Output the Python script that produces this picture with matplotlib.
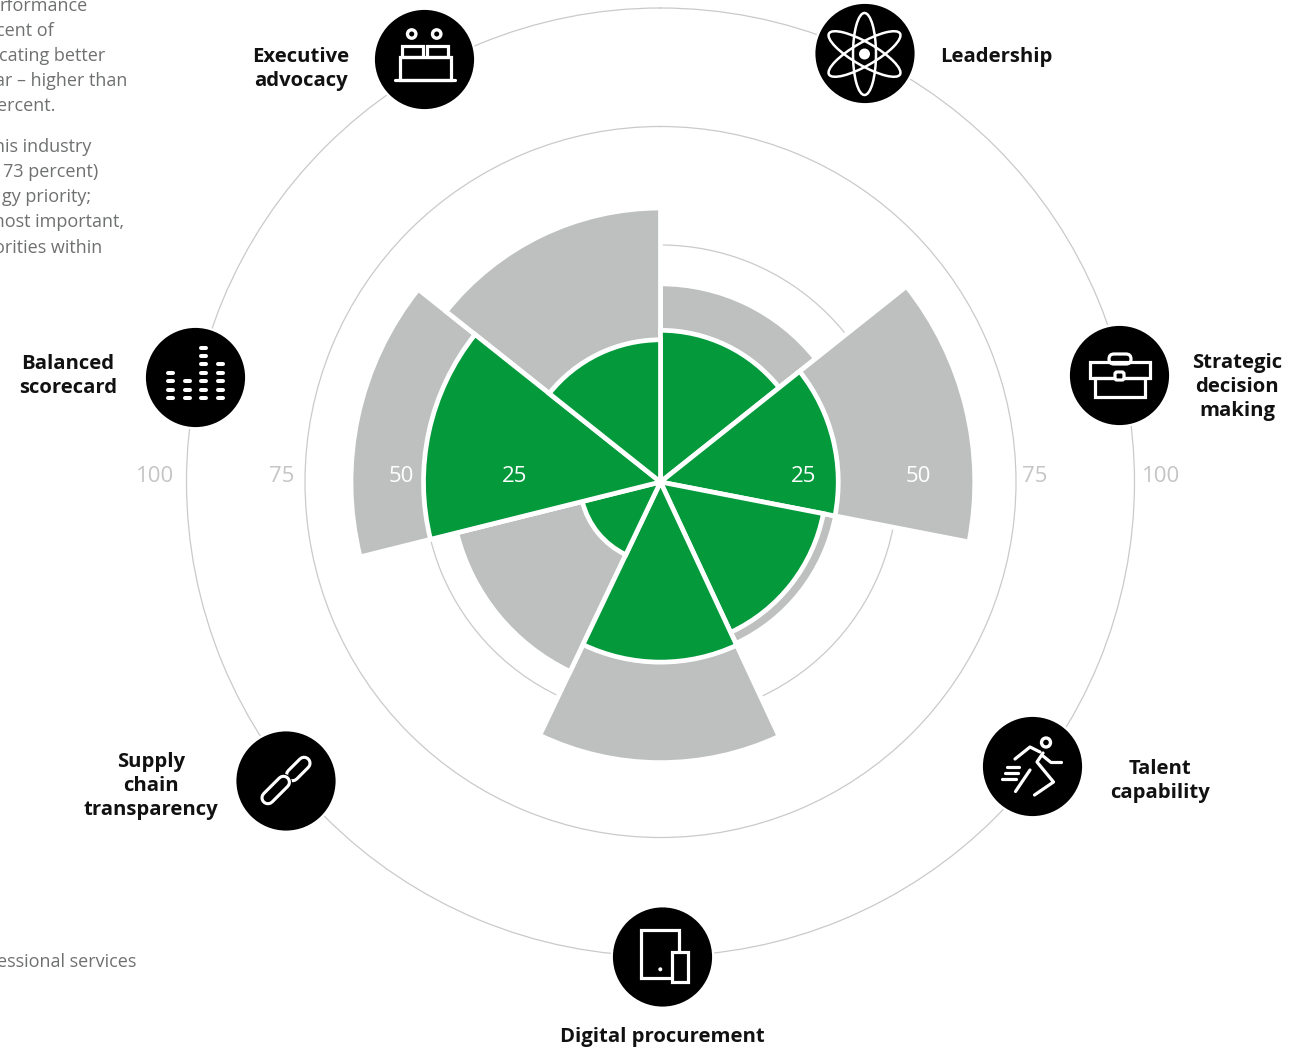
import numpy as np
import matplotlib
matplotlib.use('Agg')
import matplotlib.pyplot as plt
from matplotlib.patches import Circle, Rectangle, FancyBboxPatch, Ellipse

categories = ['Leadership', 'Strategic decision making', 'Talent capability', 'Digital procurement',
              'Supply chain transparency', 'Balanced scorecard', 'Executive advocacy']
gray_values = [41.8, 66.3, 37.6, 59.2, 44.3, 65.3, 57.8]
green_values = [32.0, 37.5, 35.0, 38.0, 17.0, 50.0, 30.0]
sector_edges_deg = [0, 51.5, 101.0, 155, 205.5, 256.0, 308.5, 360]
ring_values = [50, 75, 100]

W, H = 1289, 1049
CX, CY = 660.5, 482
PX_PER_UNIT = 4.74
RMAX = 140

GRAY = '#bec0bf'
GREEN = '#049a3c'
RING = '#c9cac9'
plt.rcParams['font.family'] = ['Open Sans', 'DejaVu Sans']

fig = plt.figure(figsize=(W / 100, H / 100), dpi=100)
fig.patch.set_facecolor('white')

# polar part, sized so 100 on the r axis comes out at 474 px
r_px = RMAX * PX_PER_UNIT
ax = fig.add_axes([(CX - r_px) / W, (H - CY - r_px) / H, 2 * r_px / W, 2 * r_px / H], projection='polar')
ax.set_theta_zero_location('N')
ax.set_theta_direction(-1)
ax.set_rlim(0, RMAX)
ax.set_rgrids(ring_values, labels=[])
ax.set_thetagrids([], labels=[])
ax.grid(True, axis='y', color=RING, lw=0.9)
ax.set_axisbelow(True)
ax.spines['polar'].set_visible(False)
ax.patch.set_alpha(0)

edges = np.radians(sector_edges_deg)
theta = (edges[:-1] + edges[1:]) / 2
widths = np.diff(edges)
ax.bar(theta, gray_values, width=widths, color=GRAY, edgecolor='white', lw=3.4, zorder=2)
ax.bar(theta, green_values, width=widths, color=GREEN, edgecolor='white', lw=3.4, zorder=3)

# overlay in pixel coordinates for labels and icons
ov = fig.add_axes([0, 0, 1, 1])
ov.set_xlim(0, W)
ov.set_ylim(H, 0)
ov.axis('off')
ov.patch.set_alpha(0)

tick_labels = [('100', 155, '#c4c5c4'), ('75', 282, '#c4c5c4'), ('50', 401, 'white'), ('25', 515, 'white'),
               ('25', 804, 'white'), ('50', 918, 'white'), ('75', 1035, '#c4c5c4'), ('100', 1161, '#c4c5c4')]
for s, x, c in tick_labels:
    ov.text(x, 476, s, color=c, fontsize=16, ha='center', va='center', zorder=5)

labels = [('Executive\nadvocacy', 301, 69), ('Leadership', 996, 57), ('Balanced\nscorecard', 68, 376),
          ('Strategic\ndecision\nmaking', 1237, 387), ('Talent\ncapability', 1160, 781),
          ('Digital procurement', 662, 1037), ('Supply\nchain\ntransparency', 151, 786)]
for s, x, y in labels:
    ov.text(x, y, s, fontsize=14.6, fontweight='bold', color='#111111', ha='center', va='center', linespacing=1.26)

body_text = [('rformance', 88, 6), ('cent of', 54, 31), ('cating better', 105, 56),
             ('ar – higher than', 127, 81), ('ercent.', 56, 106), ('his industry', 91, 147),
             ('73 percent)', 98, 172), ('gy priority;', 91, 197), ('most important,', 124, 222),
             ('orities within', 102, 248), ('essional services', 136, 962)]
for s, x, y in body_text:
    ov.text(x, y, s, fontsize=13, color='#6f7070', ha='right', va='center')


def line(xs, ys, lw=2.3, color='white', z=7):
    ov.plot(xs, ys, color=color, lw=lw, solid_capstyle='round', solid_joinstyle='round', zorder=z)


def box(x0, y0, x1, y1, lw=2.3, fc='none', z=7):
    ov.add_patch(Rectangle((x0, y0), x1 - x0, y1 - y0, fc=fc, ec='white', lw=lw, zorder=z))


centers = [(865, 53.5), (1119.5, 375.5), (1032.5, 766.5), (662.5, 957), (286, 781), (195.5, 377.5), (424.5, 59.5)]
for cx, cy in centers:
    ov.add_patch(Circle((cx, cy), 50.7, fc='black', ec='white', lw=1.6, zorder=6))

# atom
for ang in [0, 60, 120]:
    ov.add_patch(Ellipse((864.5, 54), 23, 82, angle=ang, fc='none', ec='white', lw=1.8, zorder=7))
ov.add_patch(Circle((864.5, 54), 5.5, fc='white', ec='none', zorder=7))

# briefcase
box(1089.5, 362, 1150, 378)
box(1094.5, 378, 1145, 397)
ov.add_patch(FancyBboxPatch((1109, 354), 22, 10, boxstyle='round,pad=0,rounding_size=5', fc='none', ec='white', lw=2.3, zorder=7))
ov.add_patch(FancyBboxPatch((1115, 372), 9, 8, boxstyle='round,pad=0,rounding_size=2', fc='black', ec='white', lw=2.3, zorder=8))

# runner
ov.add_patch(Circle((1046, 742.5), 4.5, fc='none', ec='white', lw=2.4, zorder=7))
line([1015, 1030, 1040], [759, 747, 752])
line([1043, 1037, 1053.5, 1034.5], [753, 762, 782, 795])
line([1043, 1051, 1061.5], [756, 762.5, 762.5])
line([1030, 1015.5], [770, 791.5])
line([1007, 1019], [767, 767])
line([1004.5, 1017.5], [773.3, 773.3])
line([1002, 1015.5], [779, 779])

# tablet and phone
box(640.7, 930, 679, 978)
box(671.7, 952, 688.3, 982, fc='black', z=8)
ov.add_patch(Circle((660.3, 969.3), 2, fc='white', ec='none', zorder=7))

# chain links, lower one drawn over the upper with a black halo
line([292.5, 304.1], [774.8, 763.2], lw=10.8, z=7)
line([292.5, 304.1], [774.8, 763.2], lw=6.3, color='black', z=8)
line([267.9, 283.5], [797.8, 782.2], lw=12.2, color='black', z=9)
line([267.9, 283.5], [797.8, 782.2], lw=10.8, z=10)
line([267.9, 283.5], [797.8, 782.2], lw=6.3, color='black', z=11)

# equaliser dots
rows = [398, 389.5, 381.3, 372.7, 364.3, 356, 348]
for x, n in zip([170.3, 187, 203.7, 220], [4, 3, 7, 5]):
    for y in rows[:n]:
        line([x - 2.5, x + 2.5], [y, y], lw=2.9)

# desk figures
for x in [411.7, 436.7]:
    ov.add_patch(Circle((x, 34), 4.2, fc='none', ec='white', lw=2.4, zorder=7))
box(402, 45.5, 423, 57)
box(427, 45.5, 447.5, 57)
box(399.5, 57, 450.5, 80)
line([394.5, 454.5], [80, 80])

fig.savefig('out.png', dpi=100)
